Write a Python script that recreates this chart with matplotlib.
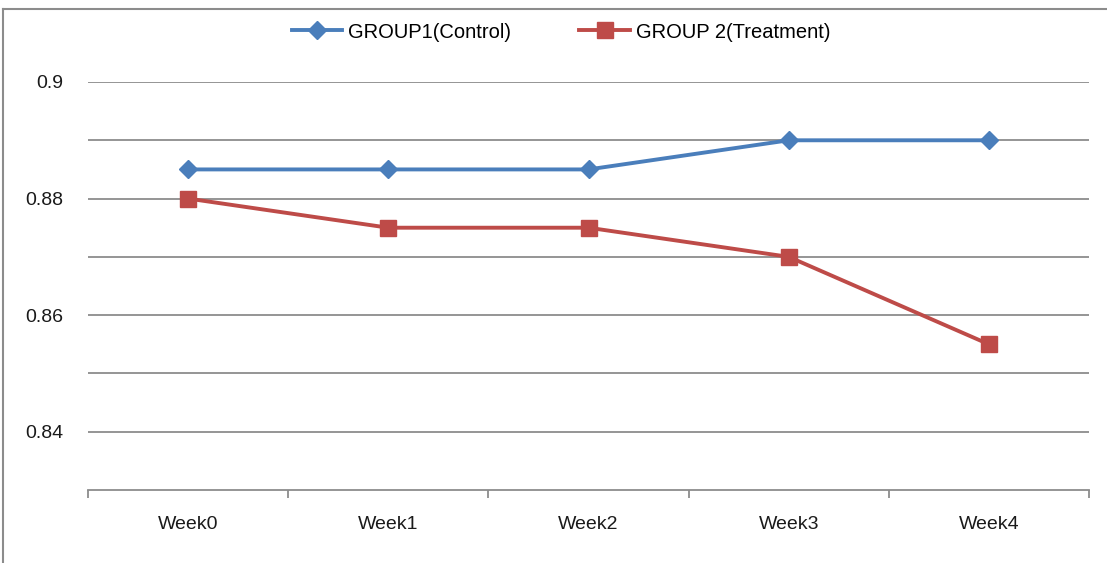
import matplotlib
matplotlib.use("Agg")
import matplotlib.pyplot as plt
from matplotlib.lines import Line2D
import numpy as np

weeks = ["Week0", "Week1", "Week2", "Week3", "Week4"]
group1 = [0.885, 0.885, 0.885, 0.89, 0.89]
group2 = [0.88, 0.875, 0.875, 0.87, 0.855]
series_names = ["GROUP1(Control)", "GROUP 2(Treatment)"]
ytick_vals = [0.84, 0.86, 0.88, 0.9]
ytick_labels = ["0.84", "0.86", "0.88", "0.9"]
grid_vals = [0.84, 0.85, 0.86, 0.87, 0.88, 0.89, 0.9]

plt.rcParams['font.family'] = ['Liberation Sans', 'DejaVu Sans']
fs = 14

W, H = 1107, 563
fig = plt.figure(figsize=(W / 100, H / 100), dpi=100)
ax = fig.add_axes([88 / W, 1 - 490 / H, (1089 - 88) / W, (490 - 82) / H])

blue = "#4A7EBB"
red = "#BE4B48"
x = np.arange(len(weeks))

for g in grid_vals:
    ax.axhline(g, color="#8C8C8C", lw=1.3, zorder=1)

ax.plot(x, group1, color=blue, lw=2.8, marker="D", markersize=9.5, zorder=3,
        label=series_names[0])
ax.plot(x, group2, color=red, lw=2.8, marker="s", markersize=11.5, zorder=3,
        label=series_names[1])

ax.set_xlim(-0.5, len(weeks) - 0.5)
ax.set_ylim(0.83, 0.9)
ax.set_yticks(ytick_vals)
ax.set_yticklabels(ytick_labels)
ax.set_xticks(x)
ax.set_xticklabels(weeks)
ax.set_xticks(np.arange(-0.5, len(weeks), 1.0), minor=True)
ax.tick_params(axis="x", which="major", length=0, pad=19, labelsize=fs, colors="#1a1a1a")
ax.tick_params(axis="x", which="minor", length=6, width=1.3, color="#8C8C8C", direction="out")
ax.tick_params(axis="y", length=0, pad=18, labelsize=fs, colors="#1a1a1a")

for s in ["top", "right", "left"]:
    ax.spines[s].set_visible(False)
ax.spines["bottom"].set_color("#8C8C8C")
ax.spines["bottom"].set_linewidth(1.3)
ax.spines["bottom"].set_zorder(2)

leg = fig.legend(handles=[
    Line2D([], [], color=blue, lw=2.8, marker="D", markersize=9.5),
    Line2D([], [], color=red, lw=2.8, marker="s", markersize=11.5)],
    labels=series_names, loc="center", bbox_to_anchor=(561 / W, 1 - 32 / H),
    ncol=2, frameon=False, fontsize=fs + 0.5, handlelength=2.5, columnspacing=3.4,
    handletextpad=0.3)

# figure border
fig.add_artist(Line2D([3 / W, 1.0], [1 - 9 / H, 1 - 9 / H], transform=fig.transFigure,
                      color="#8C8C8C", lw=1.5))
fig.add_artist(Line2D([3 / W, 3 / W], [0, 1 - 9 / H], transform=fig.transFigure,
                      color="#8C8C8C", lw=1.5))

fig.savefig("out.png", dpi=100, facecolor="white")
